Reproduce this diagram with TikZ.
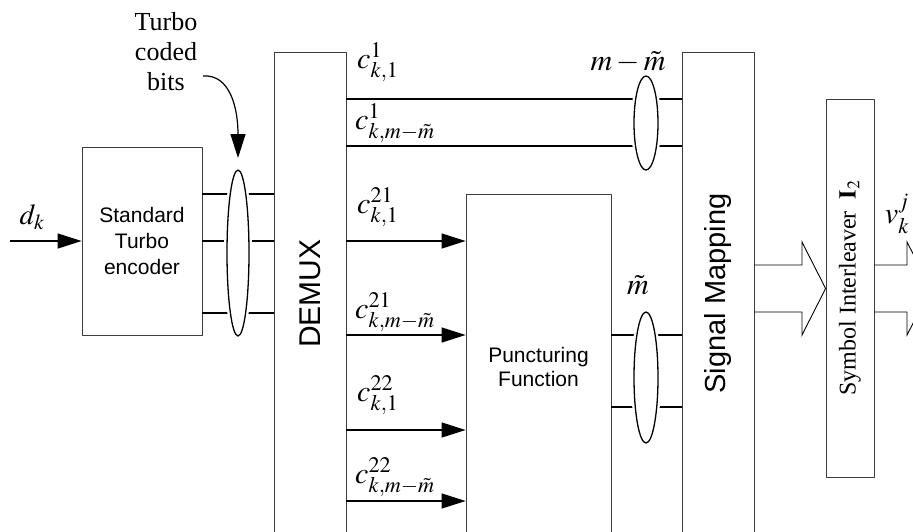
\documentclass[tikz,border=0pt]{standalone}
\usepackage{mathptmx}
\usepackage[no-math]{fontspec}
\setmainfont{Liberation Serif}
\setsansfont{Liberation Sans}
\usepackage{tikz}
\usetikzlibrary{arrows.meta,positioning,calc,shapes.geometric}
\definecolor{tcedge}{RGB}{60,60,60}
\tikzset{
  blk/.style={
    draw=tcedge, line width=0.8pt, align=center, inner sep=2pt,
    font=\sffamily\fontsize{21}{26}\selectfont
  },
  bundle/.style={
    ellipse, draw=black, line width=1.3pt, fill=white, inner sep=0pt,
    preaction={draw=white, line width=6pt}
  },
  wire/.style={draw=black, line width=1.2pt},
  arr/.style={-{Triangle[length=24pt,width=15pt]}, wire},
  blockarr/.style={draw=black, line width=0.9pt, line join=miter},
  lbl/.style={inner sep=0pt, font=\fontsize{30}{32}\selectfont},
  every picture/.append style={line join=round}
}
\begin{document}
\begin{tikzpicture}[x=1pt,y=-1pt]
  \useasboundingbox (0,0) rectangle (913,531);
  \clip (0,0) rectangle (913,531);
  % blocks
  \node[blk, minimum width=120pt, minimum height=188pt] (enc) at (142,241) {Standard\\Turbo\\encoder};
  \node[blk, minimum width=72pt, minimum height=483pt] (demux) at (310,293.5)
    {\rotatebox{90}{\fontsize{30}{32}\selectfont DEMUX}};
  \node[blk, minimum width=145pt, minimum height=346pt, font=\sffamily\fontsize{21}{24}\selectfont] (punc) at (538.5,367) {Puncturing\\Function};
  \node[blk, minimum width=72pt, minimum height=483pt] (sm) at (718,293.5)
    {\rotatebox{90}{\fontsize{29}{32}\selectfont Signal Mapping}};
  \node[blk, minimum width=48pt, minimum height=378pt] (sil) at (850,288)
    {\rotatebox{90}{\rmfamily\fontsize{24}{26}\selectfont Symbol Interleaver\ \ $\mathbf{I}_2$}};
  % input
  \coordinate (din) at (10,241);
  \draw[arr] (din) -- (enc.west);
  \node[lbl, font=\fontsize{29}{30}\selectfont] (dk) at (32,217) {$d_k$};
  % encoder outputs
  \foreach \y in {194,241,313}
    \draw[wire] (enc.east |- 0,\y) -- (demux.west |- 0,\y);
  \node[bundle, minimum width=22pt, minimum height=166pt] (b1) at (238,253) {};
  \node[align=center, inner sep=0pt, font=\fontsize{26}{30}\selectfont] (tcb) at (166,52) {Turbo\\coded\\bits};
  \coordinate (tcbs) at (203,76);
  \coordinate (tcbe) at (238,158);
  \draw[arr] (tcbs) .. controls (230,74) and (238,108) .. (tcbe);
  % demux outputs
  \foreach \y in {99,146}
    \draw[wire] (demux.east |- 0,\y) -- (sm.west |- 0,\y);
  \foreach \y in {241,335,430,501}
    \draw[arr] (demux.east |- 0,\y) -- (punc.west |- 0,\y);
  \foreach \y in {335,407}
    \draw[wire] (punc.east |- 0,\y) -- (sm.west |- 0,\y);
  \node[bundle, minimum width=24pt, minimum height=94pt] (b2) at (646,123) {};
  \node[bundle, minimum width=24pt, minimum height=131pt] (b3) at (646,377.5) {};
  \node[lbl] (nb2) at (628,62) {$m-\tilde{m}$};
  \node[lbl] (nb3) at (638,285) {$\tilde{m}$};
  % bit labels
  \node[lbl, anchor=south west] (c11) at (357,82) {$c_{k,1}^{1}$};
  \node[lbl, anchor=south west] (c1m) at (355,143) {$c_{k,m-\tilde{m}}^{1}$};
  \node[lbl, anchor=south west] (c211) at (357,227) {$c_{k,1}^{21}$};
  \node[lbl, anchor=south west] (c21m) at (355,332) {$c_{k,m-\tilde{m}}^{21}$};
  \node[lbl, anchor=south west] (c221) at (357,415) {$c_{k,1}^{22}$};
  \node[lbl, anchor=south west] (c22m) at (355,497) {$c_{k,m-\tilde{m}}^{22}$};
  % symbol outputs
  \draw[blockarr] (sm.east |- 0,265) -- (802,265) -- (802,242) -- (sil.west |- 0,288.5)
    -- (802,335) -- (802,312) -- (sm.east |- 0,312);
  \draw[blockarr] (sil.east |- 0,265) -- (907,265) -- (907,242) -- (931,288.5)
    -- (907,335) -- (907,312) -- (sil.east |- 0,312);
  \node[lbl] (vkj) at (897,214) {$v_k^j$};
\end{tikzpicture}
\end{document}
